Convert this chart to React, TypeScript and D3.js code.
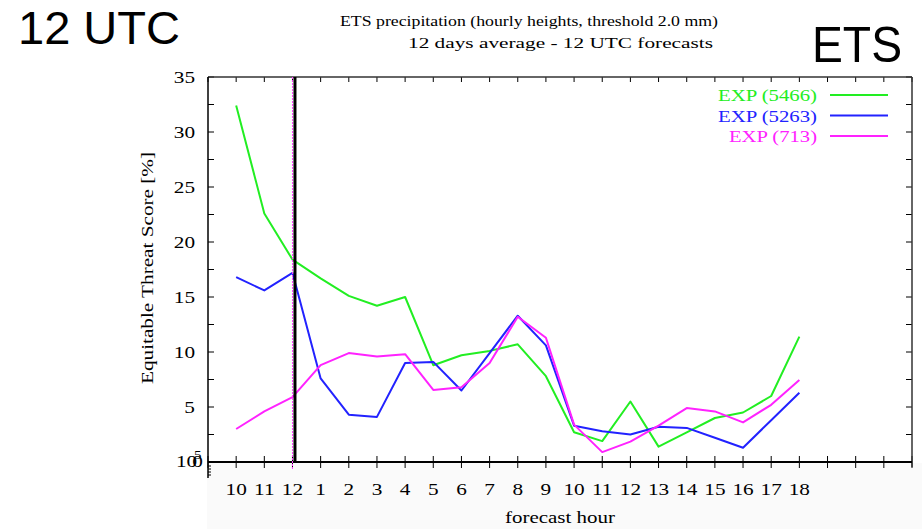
import React from "react";
import * as d3 from "d3";

// Forecast hours along the x axis (index 0..20)
const hourLabels = ["10", "11", "12", "1", "2", "3", "4", "5", "6", "7", "8", "9", "10", "11", "12", "13", "14", "15", "16", "17", "18"];

// Equitable Threat Score [%] per forecast hour
const exp5466 = [32.4, 22.6, 18.4, 16.7, 15.1, 14.2, 15.0, 8.8, 9.7, 10.1, 10.7, 7.8, 2.7, 1.9, 5.5, 1.4, 2.7, 4.0, 4.5, 6.0, 11.4];
const exp5263 = [16.8, 15.6, 17.2, 7.6, 4.3, 4.1, 9.0, 9.1, 6.5, 9.9, 13.3, 10.6, 3.3, 2.8, 2.5, 3.2, 3.1, 2.2, 1.3, 3.8, 6.3];
const exp713 = [3.0, 4.6, 5.9, 8.8, 9.9, 9.6, 9.8, 6.55, 6.8, 9.0, 13.2, 11.3, 3.4, 0.9, 1.85, 3.3, 4.9, 4.6, 3.6, 5.2, 7.45];

const seriesNames = ["EXP (5466)", "EXP (5263)", "EXP (713)"];
const seriesColors = ["#22ee22", "#2222ff", "#ff22ff"];
const yTickLabels = ["5", "10", "15", "20", "25", "30", "35"];

const W = 922;
const H = 529;
const serif = "'Liberation Serif', 'DejaVu Serif', serif";
const sans = "'Liberation Sans', Arial, sans-serif";

export default function App() {
  const x = d3.scaleLinear().domain([-1, 24]).range([208, 912]);
  const y = d3.scaleLinear().domain([0, 35]).range([462, 77]);
  const [x0, x1] = x.range();
  const [yb, yt] = y.range();

  const line = d3
    .line<number>()
    .x((_, i) => x(i))
    .y((v) => y(v));

  const series = [exp5466, exp5263, exp713];
  const xIdx = d3.range(-1, 25);
  const yMinor = d3.range(0, 35.01, 2.5);
  const marker = x(2);

  // wide-set serif glyphs
  const stretch = (px: number, py: number) => `translate(${px},${py}) scale(1.25,1)`;

  return (
    <div style={{ position: "fixed", left: 0, top: 0 }}>
      <svg width={W} height={H} style={{ display: "block", background: "#fff" }}>
        <rect x={207} y={463} width={W - 207} height={H - 463} fill="#fafafa" />

        {/* headline texts */}
        <text x={18} y={44} fontFamily={sans} fontSize={46} textLength={162} lengthAdjust="spacingAndGlyphs" fill="#000">
          12 UTC
        </text>
        <text x={812} y={62} fontFamily={sans} fontSize={50} textLength={90} lengthAdjust="spacingAndGlyphs" fill="#000">
          ETS
        </text>
        <text x={340} y={26} fontFamily={serif} fontSize={15} textLength={378} lengthAdjust="spacingAndGlyphs" fill="#000">
          ETS precipitation (hourly heights, threshold 2.0 mm)
        </text>
        <text x={408} y={48} fontFamily={serif} fontSize={15} textLength={305} lengthAdjust="spacingAndGlyphs" fill="#000">
          12 days average -  12 UTC forecasts
        </text>

        {/* frame ticks: left & right */}
        {yMinor.map((v) => (
          <g key={`yt${v}`} stroke="#000" strokeWidth={1}>
            <line x1={x0} x2={x0 + 6} y1={y(v)} y2={y(v)} />
            <line x1={x1} x2={x1 - 6} y1={y(v)} y2={y(v)} />
          </g>
        ))}
        {/* frame ticks: top & bottom */}
        {xIdx.map((i) => (
          <g key={`xt${i}`} stroke="#000" strokeWidth={1}>
            <line x1={x(i)} x2={x(i)} y1={yt} y2={yt + 5} />
            <line x1={x(i)} x2={x(i)} y1={yb - 6} y2={yb + 6} />
          </g>
        ))}
        {/* small ticks under the corner */}
        {[466, 469, 472, 475].map((v) => (
          <line key={`c${v}`} x1={x0} x2={x0 + 3} y1={v} y2={v} stroke="#000" strokeWidth={1} />
        ))}

        {/* frame */}
        <line x1={x0} x2={x1} y1={yt} y2={yt} stroke="#333" strokeWidth={1.5} />
        <line x1={x1} x2={x1} y1={yt} y2={yb + 5} stroke="#333" strokeWidth={1.5} />
        <line x1={x0} x2={x0} y1={yt} y2={478} stroke="#000" strokeWidth={1.5} />
        <line x1={x0} x2={x1} y1={yb} y2={yb} stroke="#000" strokeWidth={2} />

        {/* series */}
        {series.map((s, k) => (
          <path key={seriesNames[k]} d={line(s) ?? ""} fill="none" stroke={seriesColors[k]} strokeWidth={2} strokeLinejoin="round" />
        ))}

        {/* forecast start marker */}
        <line x1={marker} x2={marker} y1={yt} y2={yb + 7} stroke="#ff44ff" strokeWidth={1} strokeDasharray="2,1" />
        <line x1={marker + 2.5} x2={marker + 2.5} y1={yt} y2={yb} stroke="#000" strokeWidth={3} />

        {/* legend */}
        {seriesNames.map((n, k) => {
          const ly = 95 + k * 20.5;
          return (
            <g key={`lg${n}`}>
              <text x={817} y={ly + 6} textAnchor="end" fontFamily={serif} fontSize={17} fill={seriesColors[k]}
                textLength={k === 2 ? 88 : 99} lengthAdjust="spacingAndGlyphs">
                {n}
              </text>
              <line x1={830} x2={888} y1={ly} y2={ly} stroke={seriesColors[k]} strokeWidth={2} />
            </g>
          );
        })}

        {/* y tick labels */}
        {yTickLabels.map((t) => (
          <text key={`yl${t}`} transform={stretch(195, y(+t) + 5.5)} textAnchor="end" fontFamily={serif} fontSize={17} fill="#000">
            {t}
          </text>
        ))}
        {/* crowded label at the origin */}
        <text transform={stretch(176, 467)} fontFamily={serif} fontSize={17} fill="#000">
          10<tspan dx={-4}>0</tspan>
          <tspan dx={-7} dy={-8} fontSize={12}>5</tspan>
        </text>

        {/* x tick labels */}
        {hourLabels.map((t, i) => (
          <text key={`xl${i}`} transform={stretch(x(i), 495)} textAnchor="middle" fontFamily={serif} fontSize={17} fill="#000">
            {t}
          </text>
        ))}

        {/* axis titles */}
        <text x={560} y={523} textAnchor="middle" fontFamily={serif} fontSize={16} textLength={110} lengthAdjust="spacingAndGlyphs" fill="#000">
          forecast hour
        </text>
        <text transform="translate(153,268) rotate(-90)" textAnchor="middle" fontFamily={serif} fontSize={16} textLength={232} lengthAdjust="spacingAndGlyphs" fill="#000">
          Equitable Threat Score [%]
        </text>
      </svg>
    </div>
  );
}
